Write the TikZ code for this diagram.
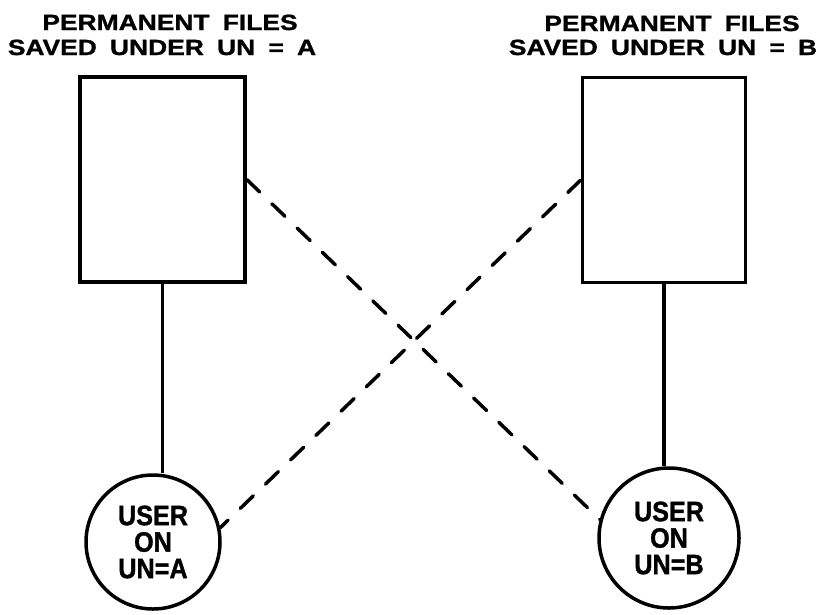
\documentclass[tikz,border=0pt]{standalone}
\usepackage{fontspec}
\setmainfont{Liberation Sans}
% wide lettering for the headings, narrower lettering inside the circles
\newfontfamily\headfont[FakeStretch=1.2, WordSpace=1.8, BoldFeatures={FakeBold=1.2}]{Liberation Sans}
\newfontfamily\userfont[FakeStretch=0.9, BoldFeatures={FakeBold=1.2}]{Liberation Sans}
\begin{document}
\begin{tikzpicture}[x=1pt,y=-1pt,
  headline/.style={font=\headfont\bfseries\fontsize{22}{24}\selectfont, anchor=base, inner sep=0pt},
  filebox/.style={draw, line width=3.5pt, minimum width=165pt, minimum height=205pt, inner sep=0pt},
  usercircle/.style={draw, circle, line width=3.5pt, inner sep=0pt, align=center,
    font=\userfont\bfseries\fontsize{28}{26.5}\selectfont},
  link/.style={line width=3.5pt},
  crosslink/.style={line width=3.5pt, dash pattern=on 18pt off 17pt, line cap=round}]
  \useasboundingbox (0,0) rectangle (826,614);

  % headings
  \node[headline] (headA1) at (170,30) {PERMANENT FILES};
  \node[headline] (headA2) at (162,55) {SAVED UNDER UN = A};
  \node[headline] (headB1) at (672,31) {PERMANENT FILES};
  \node[headline] (headB2) at (663,55) {SAVED UNDER UN = B};

  % file stores
  \node[filebox] (boxA) at (162.5,179.5) {};
  \node[filebox, minimum width=163pt] (boxB) at (664,180) {};

  % users
  \node[usercircle, minimum size=134pt] (userA) at (153,542) {USER\\ON\\UN=A};
  \node[usercircle, minimum size=140pt] (userB) at (669,538) {USER\\ON\\UN=B};

  % own-user links
  \draw[link] (boxA.south) -- (boxA.south |- userA.north);
  \draw[link] (boxB.south) -- (boxB.south |- userB.north);

  % cross-user links
  \draw[crosslink] (boxA.east) -- (userB.165);
  \draw[crosslink] (boxB.west) -- (userA.12);
\end{tikzpicture}
\end{document}
